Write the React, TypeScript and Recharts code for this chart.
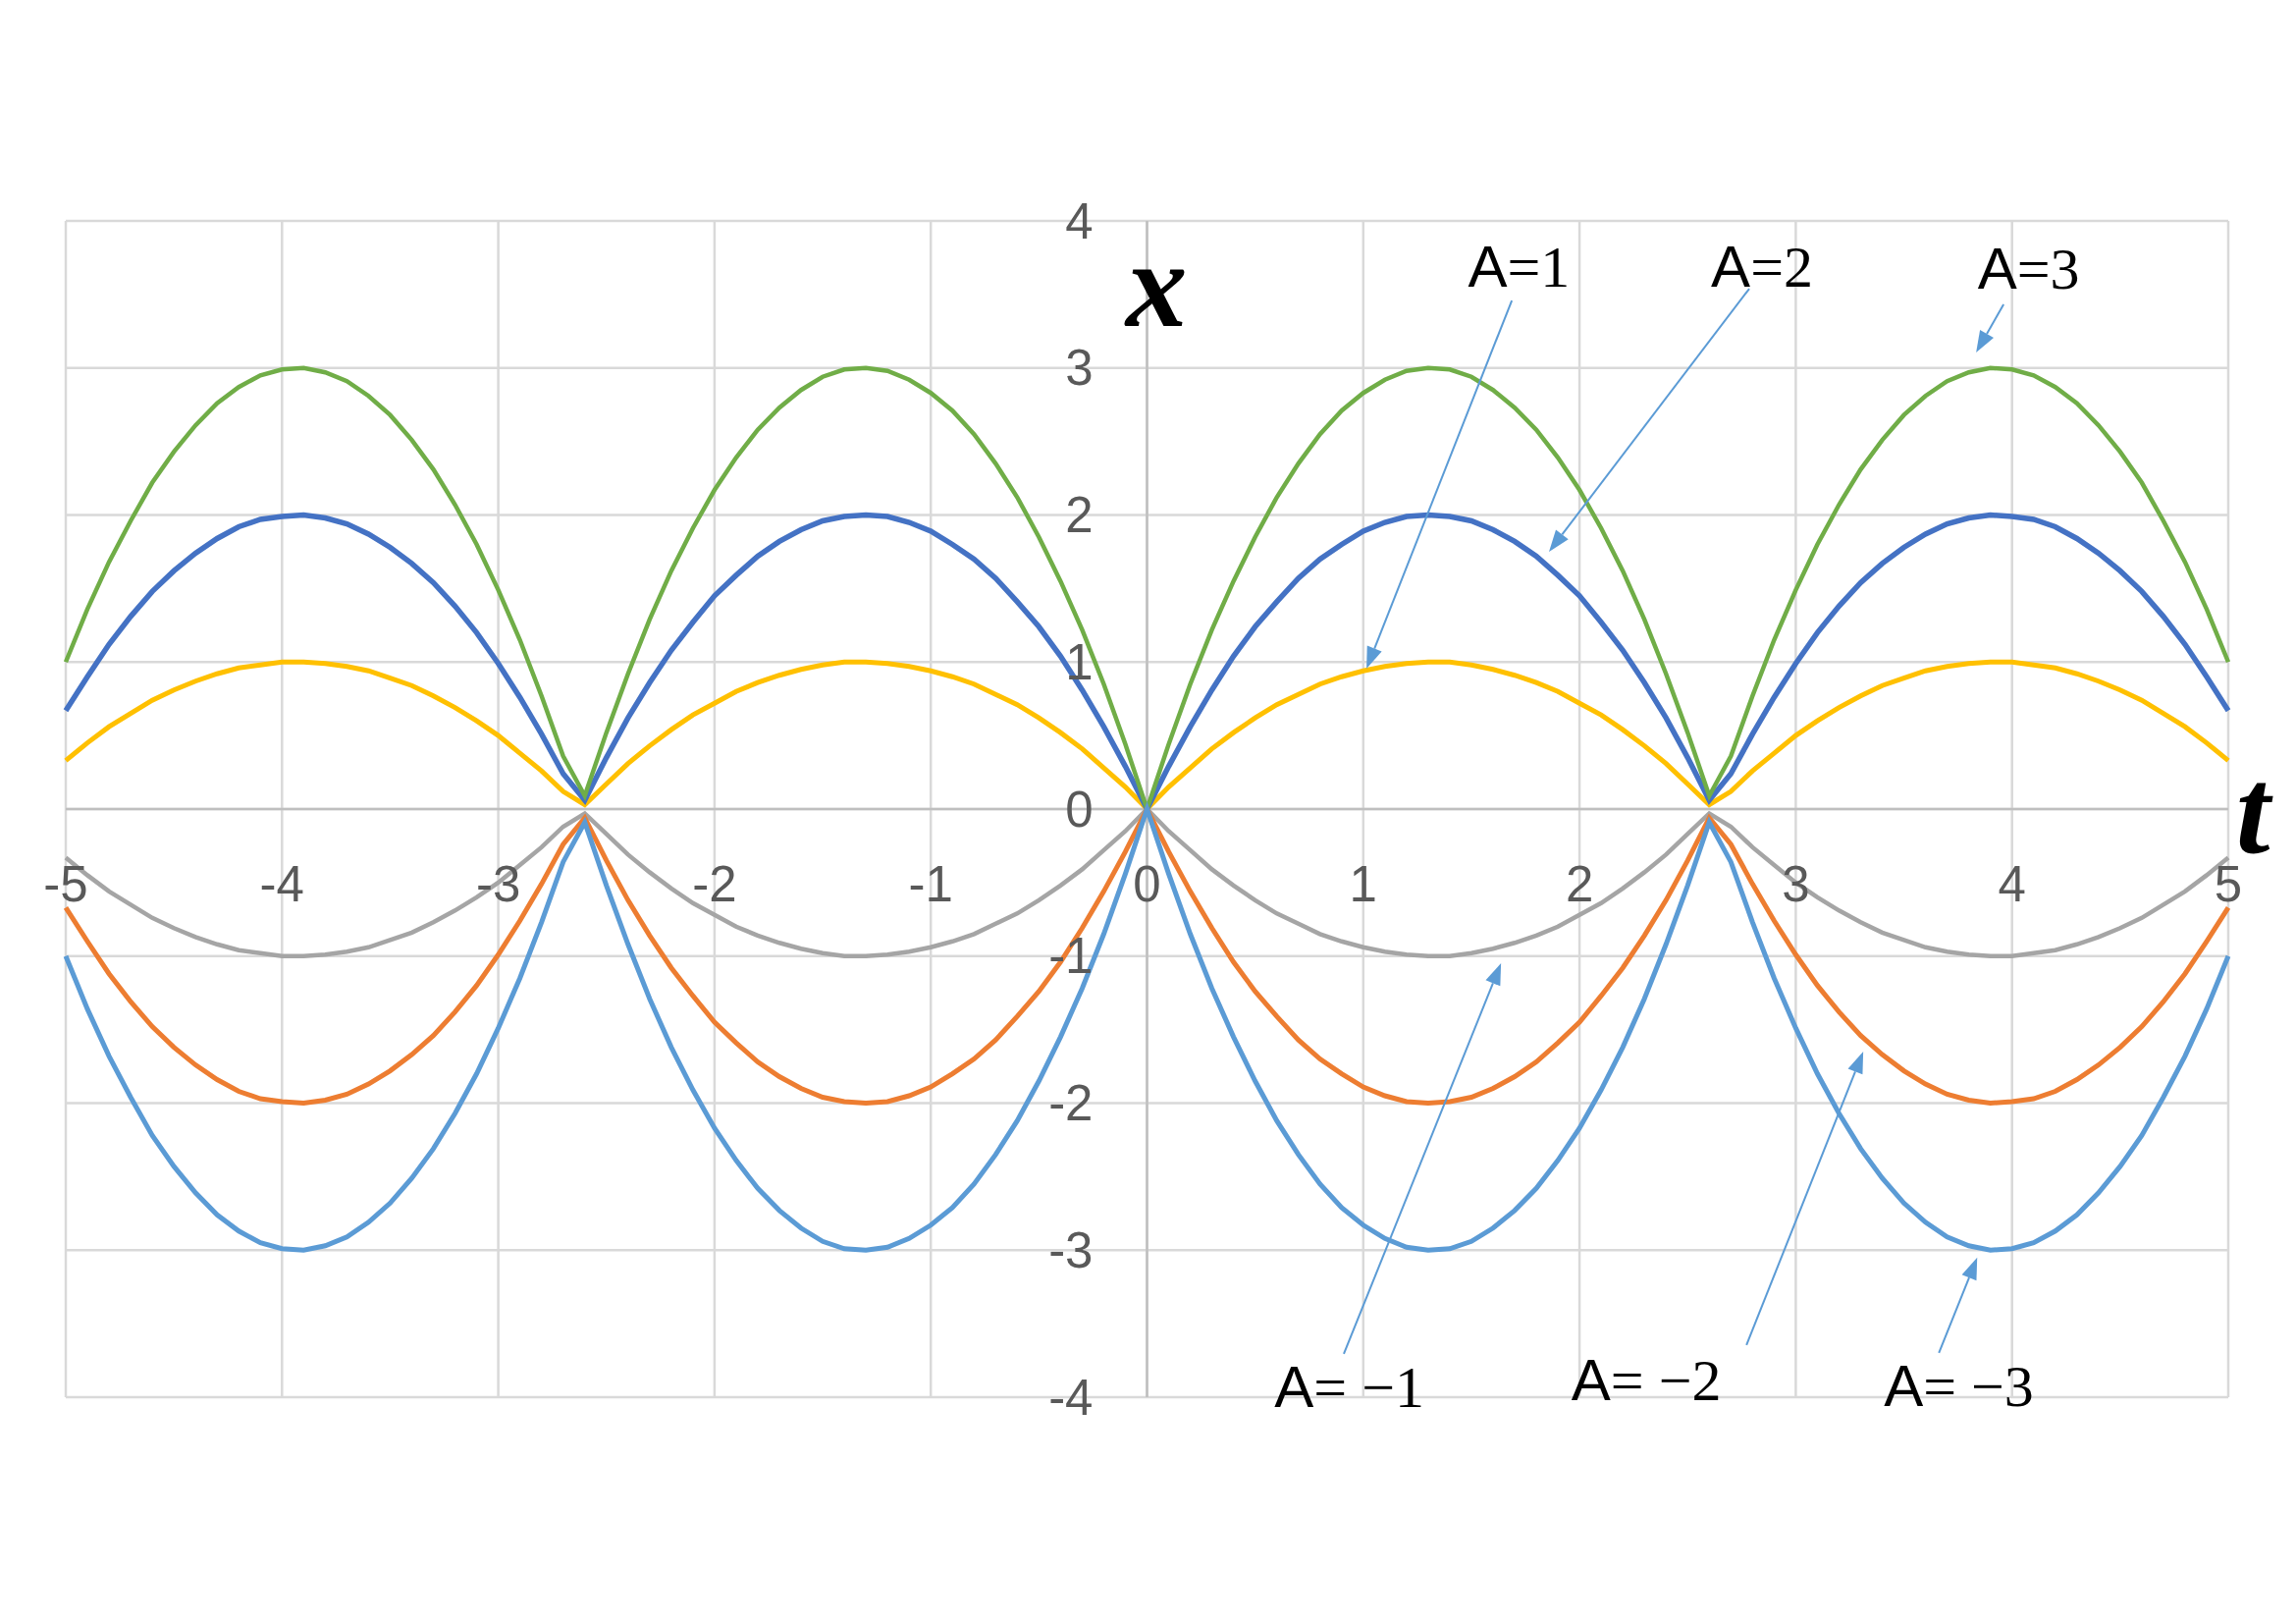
import React from 'react';
import { LineChart, Line, XAxis, YAxis, CartesianGrid, ReferenceLine } from 'recharts';

// t samples, step 0.1
const tValues = [
  -5, -4.9, -4.8, -4.7, -4.6, -4.5, -4.4, -4.3, -4.2, -4.1,
  -4, -3.9, -3.8, -3.7, -3.6, -3.5, -3.4, -3.3, -3.2, -3.1,
  -3, -2.9, -2.8, -2.7, -2.6, -2.5, -2.4, -2.3, -2.2, -2.1,
  -2, -1.9, -1.8, -1.7, -1.6, -1.5, -1.4, -1.3, -1.2, -1.1,
  -1, -0.9, -0.8, -0.7, -0.6, -0.5, -0.4, -0.3, -0.2, -0.1,
  0,
  0.1, 0.2, 0.3, 0.4, 0.5, 0.6, 0.7, 0.8, 0.9, 1,
  1.1, 1.2, 1.3, 1.4, 1.5, 1.6, 1.7, 1.8, 1.9, 2,
  2.1, 2.2, 2.3, 2.4, 2.5, 2.6, 2.7, 2.8, 2.9, 3,
  3.1, 3.2, 3.3, 3.4, 3.5, 3.6, 3.7, 3.8, 3.9, 4,
  4.1, 4.2, 4.3, 4.4, 4.5, 4.6, 4.7, 4.8, 4.9, 5,
];

// A = 1
const xA1 = [
  0.33, 0.45, 0.56, 0.65, 0.74, 0.81, 0.87, 0.92, 0.96, 0.98,
  1.00, 1.00, 0.99, 0.97, 0.94, 0.89, 0.84, 0.77, 0.69, 0.60,
  0.50, 0.38, 0.26, 0.12, 0.03, 0.17, 0.31, 0.43, 0.54, 0.64,
  0.72, 0.80, 0.86, 0.91, 0.95, 0.98, 1.00, 1.00, 0.99, 0.97,
  0.94, 0.90, 0.85, 0.78, 0.71, 0.62, 0.52, 0.41, 0.28, 0.15,
  0,
  0.15, 0.28, 0.41, 0.52, 0.62, 0.71, 0.78, 0.85, 0.90, 0.94,
  0.97, 0.99, 1.00, 1.00, 0.98, 0.95, 0.91, 0.86, 0.80, 0.72,
  0.64, 0.54, 0.43, 0.31, 0.17, 0.03, 0.12, 0.26, 0.38, 0.50,
  0.60, 0.69, 0.77, 0.84, 0.89, 0.94, 0.97, 0.99, 1.00, 1.00,
  0.98, 0.96, 0.92, 0.87, 0.81, 0.74, 0.65, 0.56, 0.45, 0.33,
];

// A = 2
const xA2 = [
  0.67, 0.90, 1.12, 1.31, 1.48, 1.62, 1.74, 1.84, 1.92, 1.97,
  1.99, 2.00, 1.98, 1.94, 1.87, 1.78, 1.67, 1.54, 1.38, 1.20,
  0.99, 0.76, 0.51, 0.24, 0.06, 0.35, 0.62, 0.86, 1.08, 1.27,
  1.45, 1.59, 1.72, 1.82, 1.90, 1.96, 1.99, 2.00, 1.99, 1.95,
  1.89, 1.80, 1.70, 1.57, 1.41, 1.24, 1.04, 0.81, 0.56, 0.29,
  0,
  0.29, 0.56, 0.81, 1.04, 1.24, 1.41, 1.57, 1.70, 1.80, 1.89,
  1.95, 1.99, 2.00, 1.99, 1.96, 1.90, 1.82, 1.72, 1.59, 1.45,
  1.27, 1.08, 0.86, 0.62, 0.35, 0.06, 0.24, 0.51, 0.76, 0.99,
  1.20, 1.38, 1.54, 1.67, 1.78, 1.87, 1.94, 1.98, 2.00, 1.99,
  1.97, 1.92, 1.84, 1.74, 1.62, 1.48, 1.31, 1.12, 0.90, 0.67,
];

// A = 3
const xA3 = [
  1.00, 1.36, 1.68, 1.96, 2.22, 2.43, 2.61, 2.76, 2.87, 2.95,
  2.99, 3.00, 2.97, 2.91, 2.81, 2.68, 2.51, 2.31, 2.07, 1.80,
  1.49, 1.15, 0.77, 0.36, 0.09, 0.52, 0.92, 1.29, 1.62, 1.91,
  2.17, 2.39, 2.58, 2.73, 2.85, 2.94, 2.99, 3.00, 2.98, 2.92,
  2.83, 2.71, 2.55, 2.35, 2.12, 1.85, 1.55, 1.22, 0.85, 0.44,
  0,
  0.44, 0.85, 1.22, 1.55, 1.85, 2.12, 2.35, 2.55, 2.71, 2.83,
  2.92, 2.98, 3.00, 2.99, 2.94, 2.85, 2.73, 2.58, 2.39, 2.17,
  1.91, 1.62, 1.29, 0.92, 0.52, 0.09, 0.36, 0.77, 1.15, 1.49,
  1.80, 2.07, 2.31, 2.51, 2.68, 2.81, 2.91, 2.97, 3.00, 2.99,
  2.95, 2.87, 2.76, 2.61, 2.43, 2.22, 1.96, 1.68, 1.36, 1.00,
];

// A = -1
const xN1 = [
  -0.33, -0.45, -0.56, -0.65, -0.74, -0.81, -0.87, -0.92, -0.96, -0.98,
  -1.00, -1.00, -0.99, -0.97, -0.94, -0.89, -0.84, -0.77, -0.69, -0.60,
  -0.50, -0.38, -0.26, -0.12, -0.03, -0.17, -0.31, -0.43, -0.54, -0.64,
  -0.72, -0.80, -0.86, -0.91, -0.95, -0.98, -1.00, -1.00, -0.99, -0.97,
  -0.94, -0.90, -0.85, -0.78, -0.71, -0.62, -0.52, -0.41, -0.28, -0.15,
  0,
  -0.15, -0.28, -0.41, -0.52, -0.62, -0.71, -0.78, -0.85, -0.90, -0.94,
  -0.97, -0.99, -1.00, -1.00, -0.98, -0.95, -0.91, -0.86, -0.80, -0.72,
  -0.64, -0.54, -0.43, -0.31, -0.17, -0.03, -0.12, -0.26, -0.38, -0.50,
  -0.60, -0.69, -0.77, -0.84, -0.89, -0.94, -0.97, -0.99, -1.00, -1.00,
  -0.98, -0.96, -0.92, -0.87, -0.81, -0.74, -0.65, -0.56, -0.45, -0.33,
];

// A = -2
const xN2 = [
  -0.67, -0.90, -1.12, -1.31, -1.48, -1.62, -1.74, -1.84, -1.92, -1.97,
  -1.99, -2.00, -1.98, -1.94, -1.87, -1.78, -1.67, -1.54, -1.38, -1.20,
  -0.99, -0.76, -0.51, -0.24, -0.06, -0.35, -0.62, -0.86, -1.08, -1.27,
  -1.45, -1.59, -1.72, -1.82, -1.90, -1.96, -1.99, -2.00, -1.99, -1.95,
  -1.89, -1.80, -1.70, -1.57, -1.41, -1.24, -1.04, -0.81, -0.56, -0.29,
  0,
  -0.29, -0.56, -0.81, -1.04, -1.24, -1.41, -1.57, -1.70, -1.80, -1.89,
  -1.95, -1.99, -2.00, -1.99, -1.96, -1.90, -1.82, -1.72, -1.59, -1.45,
  -1.27, -1.08, -0.86, -0.62, -0.35, -0.06, -0.24, -0.51, -0.76, -0.99,
  -1.20, -1.38, -1.54, -1.67, -1.78, -1.87, -1.94, -1.98, -2.00, -1.99,
  -1.97, -1.92, -1.84, -1.74, -1.62, -1.48, -1.31, -1.12, -0.90, -0.67,
];

// A = -3
const xN3 = [
  -1.00, -1.36, -1.68, -1.96, -2.22, -2.43, -2.61, -2.76, -2.87, -2.95,
  -2.99, -3.00, -2.97, -2.91, -2.81, -2.68, -2.51, -2.31, -2.07, -1.80,
  -1.49, -1.15, -0.77, -0.36, -0.09, -0.52, -0.92, -1.29, -1.62, -1.91,
  -2.17, -2.39, -2.58, -2.73, -2.85, -2.94, -2.99, -3.00, -2.98, -2.92,
  -2.83, -2.71, -2.55, -2.35, -2.12, -1.85, -1.55, -1.22, -0.85, -0.44,
  0,
  -0.44, -0.85, -1.22, -1.55, -1.85, -2.12, -2.35, -2.55, -2.71, -2.83,
  -2.92, -2.98, -3.00, -2.99, -2.94, -2.85, -2.73, -2.58, -2.39, -2.17,
  -1.91, -1.62, -1.29, -0.92, -0.52, -0.09, -0.36, -0.77, -1.15, -1.49,
  -1.80, -2.07, -2.31, -2.51, -2.68, -2.81, -2.91, -2.97, -3.00, -2.99,
  -2.95, -2.87, -2.76, -2.61, -2.43, -2.22, -1.96, -1.68, -1.36, -1.00,
];

const tTicks = [-5, -4, -3, -2, -1, 0, 1, 2, 3, 4, 5];
const xTicks = [-4, -3, -2, -1, 0, 1, 2, 3, 4];

// callouts: label position and arrow (from -> to), all in data units (t, x)
const callouts = [
  { text: '1', neg: false, at: [1.72, 3.553], from: [1.687, 3.459], to: [1.015, 0.955] },
  { text: '2', neg: false, at: [2.844, 3.553], from: [2.785, 3.539], to: [1.859, 1.75] },
  { text: '3', neg: false, at: [4.077, 3.539], from: [3.961, 3.432], to: [3.834, 3.105] },
  { text: '1', neg: true, at: [0.936, -4.065], from: [0.91, -3.706], to: [1.637, -1.048] },
  { text: '2', neg: true, at: [2.309, -4.02], from: [2.772, -3.646], to: [3.312, -1.649] },
  { text: '3', neg: true, at: [3.754, -4.06], from: [3.662, -3.699], to: [3.839, -3.05] },
];

const W = 2339;
const H = 1654;
const M = { top: 225, right: 69, bottom: 231, left: 67 };
const plotW = W - M.left - M.right;
const plotH = H - M.top - M.bottom;
const px = (t: number) => M.left + ((t + 5) / 10) * plotW;
const py = (v: number) => M.top + ((4 - v) / 8) * plotH;

const data = tValues.map((t, i) => ({
  t,
  a1: xA1[i],
  a2: xA2[i],
  a3: xA3[i],
  n1: xN1[i],
  n2: xN2[i],
  n3: xN3[i],
}));

const series = [
  { key: 'a1', color: '#FFC000', width: 5 },
  { key: 'a2', color: '#4472C4', width: 5.5 },
  { key: 'a3', color: '#70AD47', width: 4.5 },
  { key: 'n1', color: '#A5A5A5', width: 4.5 },
  { key: 'n2', color: '#ED7D31', width: 5 },
  { key: 'n3', color: '#5B9BD5', width: 5 },
];

const tickFont = "'Liberation Sans', Arial, sans-serif";
const mathFont = "'Liberation Serif', 'Times New Roman', serif";

// axis ticks are drawn by the overlay (axes cross at the origin)
const NoTick = () => <g />;

function Arrow({ from, to }: { from: number[]; to: number[] }) {
  const x1 = px(from[0]);
  const y1 = py(from[1]);
  const x2 = px(to[0]);
  const y2 = py(to[1]);
  const len = Math.hypot(x2 - x1, y2 - y1);
  const ux = (x2 - x1) / len;
  const uy = (y2 - y1) / len;
  const head = 22;
  const half = 8;
  const bx = x2 - ux * head;
  const by = y2 - uy * head;
  return (
    <g>
      <line x1={x1} y1={y1} x2={bx} y2={by} stroke="#5B9BD5" strokeWidth={2} />
      <polygon
        points={`${x2},${y2} ${bx - uy * half},${by + ux * half} ${bx + uy * half},${by - ux * half}`}
        fill="#5B9BD5"
      />
    </g>
  );
}

export default function App() {
  return (
    <div style={{ position: 'absolute', left: 0, top: 0, width: W, height: H, background: '#fff' }}>
      <LineChart width={W} height={H} data={data} margin={M}>
        <CartesianGrid stroke="#d9d9d9" strokeWidth={2.5} />
        <XAxis
          dataKey="t"
          type="number"
          domain={[-5, 5]}
          ticks={tTicks}
          height={0}
          axisLine={false}
          tickLine={false}
          tick={NoTick}
        />
        <YAxis
          type="number"
          domain={[-4, 4]}
          ticks={xTicks}
          width={0}
          axisLine={false}
          tickLine={false}
          tick={NoTick}
        />
        <ReferenceLine y={0} stroke="#bfbfbf" strokeWidth={2.5} />
        <ReferenceLine x={0} stroke="#bfbfbf" strokeWidth={2.5} />
        {series.map((s) => (
          <Line
            key={s.key}
            dataKey={s.key}
            type="linear"
            stroke={s.color}
            strokeWidth={s.width}
            dot={false}
            activeDot={false}
            isAnimationActive={false}
          />
        ))}
      </LineChart>
      <svg
        width={W}
        height={H}
        style={{ position: 'absolute', left: 0, top: 0, pointerEvents: 'none' }}
      >
        {tTicks.map((t) => (
          <text
            key={'t' + t}
            x={px(t)}
            y={py(0) + 76}
            textAnchor="middle"
            dominantBaseline="central"
            fill="#595959"
            fontSize={51}
            fontFamily={tickFont}
          >
            {t}
          </text>
        ))}
        {xTicks.map((v) => (
          <text
            key={'x' + v}
            x={px(0) - 55}
            y={py(v)}
            textAnchor="end"
            dominantBaseline="central"
            fill="#595959"
            fontSize={51}
            fontFamily={tickFont}
          >
            {v}
          </text>
        ))}
        <text
          x={px(0.044)}
          y={py(3.285)}
          textAnchor="middle"
          fontSize={125}
          fontStyle="italic"
          fontWeight="bold"
          fontFamily={mathFont}
          fill="#000"
        >
          x
        </text>
        <text
          x={px(5.114)}
          y={py(-0.294)}
          textAnchor="middle"
          fontSize={125}
          fontStyle="italic"
          fontWeight="bold"
          fontFamily={mathFont}
          fill="#000"
        >
          t
        </text>
        {callouts.map((c, i) => (
          <g key={i}>
            <Arrow from={c.from} to={c.to} />
            <text x={px(c.at[0])} y={py(c.at[1])} textAnchor="middle" fontSize={60} fill="#000">
              <tspan fontFamily={tickFont}>A</tspan>
              <tspan fontFamily={mathFont}>{c.neg ? '= \u2212' + c.text : '=' + c.text}</tspan>
            </text>
          </g>
        ))}
      </svg>
    </div>
  );
}
